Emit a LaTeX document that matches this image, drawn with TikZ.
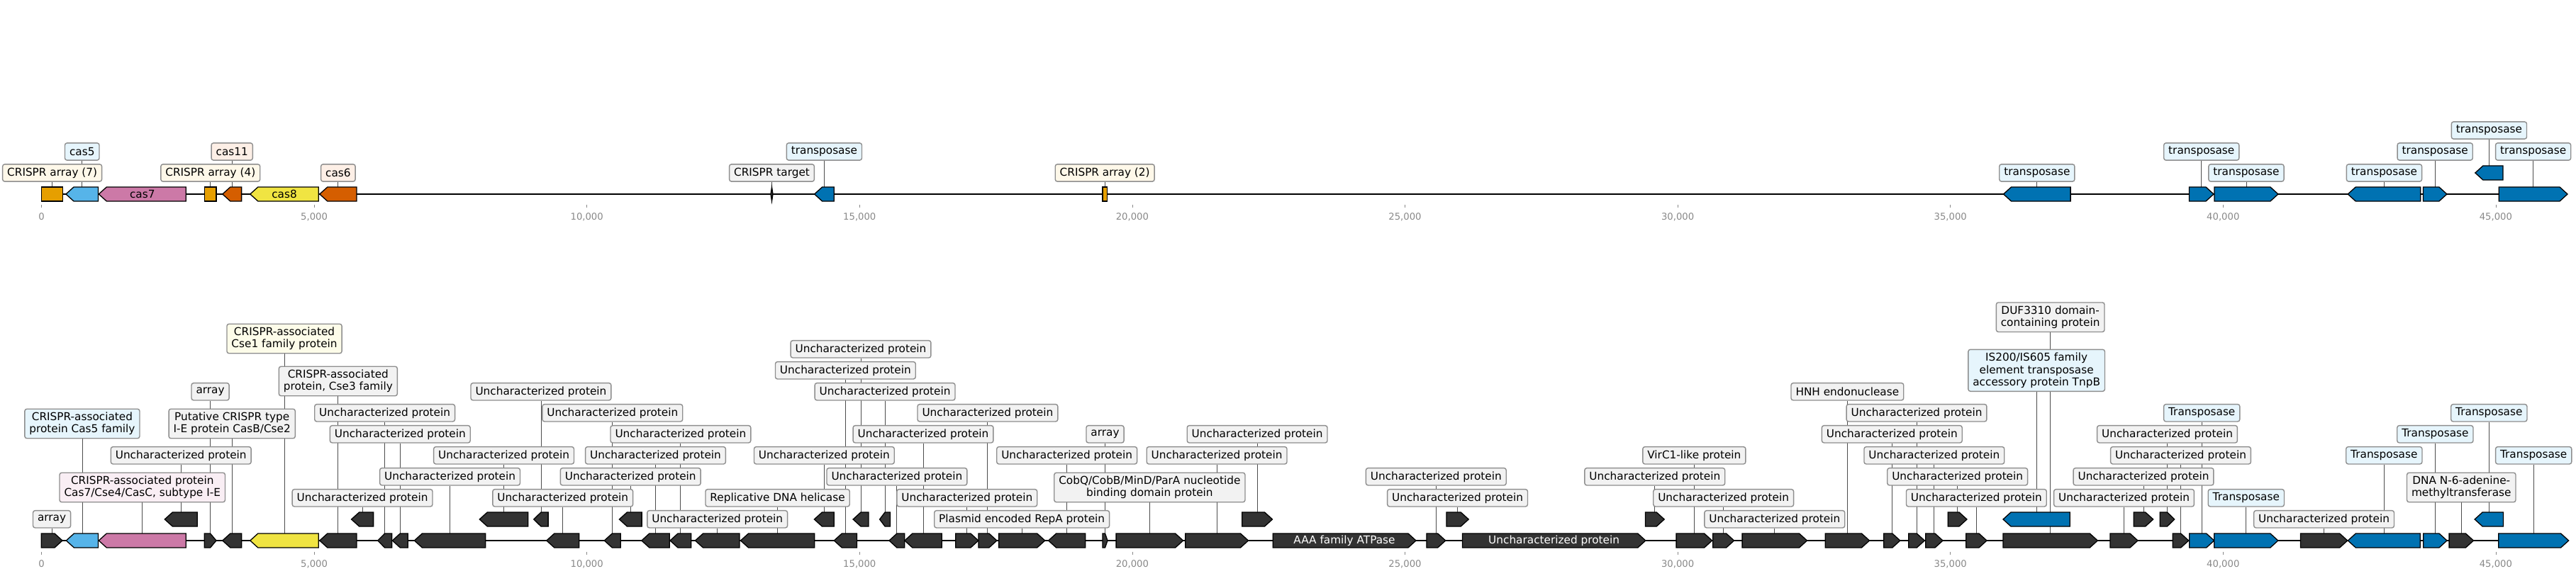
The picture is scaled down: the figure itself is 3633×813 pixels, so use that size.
\documentclass[tikz,border=0pt]{standalone}
\usepackage{fontspec}
\setmainfont{DejaVu Sans}

\definecolor{cdark}{HTML}{333333}
\definecolor{corange}{HTML}{E69F00}
\definecolor{cskyblue}{HTML}{56B4E9}
\definecolor{cpink}{HTML}{CC79A7}
\definecolor{cvermil}{HTML}{D55E00}
\definecolor{cyellow}{HTML}{F0E442}
\definecolor{cblue}{HTML}{0072B2}
\definecolor{lgrey}{HTML}{F2F2F2}
\definecolor{lblue}{HTML}{E6F5FC}
\definecolor{lcream}{HTML}{FEF8E9}
\definecolor{lpeach}{HTML}{FDEFE6}
\definecolor{lpink}{HTML}{F9EEF4}
\definecolor{lyellow}{HTML}{FDFCE9}
\definecolor{lborder}{HTML}{8E8E8E}
\definecolor{tickgrey}{HTML}{888888}
\definecolor{connline}{HTML}{4D4D4D}

\pgfdeclarelayer{bg}
\pgfsetlayers{bg,main}

\newcommand{\lblfont}{\fontsize{15.3}{17.3}\selectfont}
\newcommand{\tickfont}{\fontsize{13.2}{15}\selectfont}

\tikzset{
  gene/.style={draw=black, line width=1.3pt, line join=miter},
  lbl/.style={draw=lborder, fill=lgrey, line width=1.4pt, rounded corners=3pt,
    inner xsep=6.5pt, inner ysep=0pt, minimum height=24.3pt, align=center, font=\lblfont},
  lbltwo/.style={lbl, minimum height=41.5pt},
  lblthree/.style={lbl, minimum height=59pt},
  conn/.style={draw=connline, line width=0.9pt},
  trackline/.style={line width=2.2pt},
  rulertick/.style={draw=tickgrey, line width=0.8pt},
  ticklbl/.style={text=tickgrey, font=\tickfont, inner sep=0pt},
}

% genes: name, start, end, row centre, colour
\newcommand{\fwdgene}[5]{%
  \pgfmathsetmacro{\headlen}{min(11,(#3-#2)/2)}%
  \draw[gene, fill=#5] (#2,#4-10) -- (#3-\headlen,#4-10) -- (#3,#4) -- (#3-\headlen,#4+10) -- (#2,#4+10) -- cycle;
  \coordinate (#1) at ({(#2+#3)/2},#4-10);}
\newcommand{\revgene}[5]{%
  \pgfmathsetmacro{\headlen}{min(11,(#3-#2)/2)}%
  \draw[gene, fill=#5] (#2,#4) -- (#2+\headlen,#4-10) -- (#3,#4-10) -- (#3,#4+10) -- (#2+\headlen,#4+10) -- cycle;
  \coordinate (#1) at ({(#2+#3)/2},#4-10);}
\newcommand{\boxgene}[5]{%
  \draw[gene, fill=#5] (#2,#4-10) rectangle (#3,#4+10);
  \coordinate (#1) at ({(#2+#3)/2},#4-10);}

\begin{document}
\begin{tikzpicture}[x=1pt,y=-1pt]
\useasboundingbox (0,0) rectangle (3633,813);

% top track
\draw[trackline] (58.5,274) -- (3621,274);
\boxgene{t1}{58.5}{88.8}{274}{corange}
\revgene{t2}{93}{138.5}{274}{cskyblue}
\revgene{t3}{139.3}{262.2}{274}{cpink}
\node[font=\lblfont] (c7) at (200.75,274) {cas7};
\boxgene{t4}{288.6}{305}{274}{corange}
\revgene{t5}{313.8}{340.6}{274}{cvermil}
\revgene{t6}{352.8}{449.3}{274}{cyellow}
\node[font=\lblfont] (c8) at (401,274) {cas8};
\revgene{t7}{450.8}{502.9}{274}{cvermil}
\draw[gene, fill=cdark] (1088.5,264) -- (1090,274) -- (1088.5,284) -- (1087,274) -- cycle;
\coordinate (t8) at (1088.5,264);
\revgene{t9}{1148.6}{1176.2}{274}{cblue}
\boxgene{t10}{1555}{1561.3}{274}{corange}
\revgene{t11}{2825.5}{2920.1}{274}{cblue}
\fwdgene{t12}{3087.5}{3122}{274}{cblue}
\fwdgene{t13}{3123}{3212.9}{274}{cblue}
\revgene{t14}{3311.2}{3413.7}{274}{cblue}
\fwdgene{t15}{3417.4}{3450.9}{274}{cblue}
\revgene{t16}{3490.8}{3530}{244}{cblue}
\fwdgene{t17}{3524.2}{3621}{274}{cblue}

\node[lbl, fill=lcream] (a7) at (t1 |- 0,244) {CRISPR array (7)};
\node[lbl, fill=lblue] (k5) at (t2 |- 0,214) {cas5};
\node[lbl, fill=lcream] (a4) at (t4 |- 0,244) {CRISPR array (4)};
\node[lbl, fill=lpeach] (k11) at (t5 |- 0,214) {cas11};
\node[lbl, fill=lpeach] (k6) at (t7 |- 0,244) {cas6};
\node[lbl] (ct) at (t8 |- 0,244) {CRISPR target};
\node[lbl, fill=lblue] (tr1) at (t9 |- 0,214) {transposase};
\node[lbl, fill=lcream] (a2) at (t10 |- 0,244) {CRISPR array (2)};
\node[lbl, fill=lblue] (tr2) at (t11 |- 0,244) {transposase};
\node[lbl, fill=lblue] (tr3) at (t12 |- 0,214) {transposase};
\node[lbl, fill=lblue] (tr4) at (t13 |- 0,244) {transposase};
\node[lbl, fill=lblue] (tr5) at (t14 |- 0,244) {transposase};
\node[lbl, fill=lblue] (tr6) at (t15 |- 0,214) {transposase};
\node[lbl, fill=lblue] (tr7) at (t16 |- 0,184) {transposase};
\node[lbl, fill=lblue] (tr8) at (t17 |- 0,214) {transposase};

% bottom track
\draw[trackline] (58.2,763) -- (3622.6,763);
\fwdgene{b1}{58.2}{88}{763}{cdark}
\revgene{b2}{93.4}{138.5}{763}{cskyblue}
\revgene{b3}{139.3}{262.2}{763}{cpink}
\revgene{b4}{232.3}{278.2}{733}{cdark}
\fwdgene{b5}{288.2}{305}{763}{cdark}
\revgene{b6}{313.8}{340.6}{763}{cdark}
\revgene{b7}{352.8}{449.3}{763}{cyellow}
\revgene{b8}{450.8}{502.9}{763}{cdark}
\revgene{b9}{495.6}{526.6}{733}{cdark}
\revgene{b10}{532.7}{552.6}{763}{cdark}
\revgene{b11}{553.4}{575.2}{763}{cdark}
\revgene{b12}{584.4}{684.7}{763}{cdark}
\revgene{b13}{676.3}{744.8}{733}{cdark}
\revgene{b14}{752.8}{773.1}{733}{cdark}
\revgene{b15}{770.8}{816.7}{763}{cdark}
\revgene{b16}{852.3}{875.3}{763}{cdark}
\revgene{b17}{873.4}{905.1}{733}{cdark}
\revgene{b18}{904.8}{944.2}{763}{cdark}
\revgene{b19}{945}{974.8}{763}{cdark}
\revgene{b20}{980.5}{1042.9}{763}{cdark}
\revgene{b21}{1044.5}{1148.7}{763}{cdark}
\revgene{b22}{1148.4}{1176.3}{733}{cdark}
\revgene{b23}{1176.3}{1208.4}{763}{cdark}
\revgene{b24}{1203.1}{1224.9}{733}{cdark}
\revgene{b25}{1240.6}{1255.5}{733}{cdark}
\revgene{b26}{1254}{1275.8}{763}{cdark}
\revgene{b27}{1275.8}{1328.2}{763}{cdark}
\fwdgene{b28}{1347.7}{1379.9}{763}{cdark}
\fwdgene{b29}{1379.9}{1405.9}{763}{cdark}
\fwdgene{b30}{1408.6}{1473.7}{763}{cdark}
\revgene{b31}{1478.6}{1530.7}{763}{cdark}
\fwdgene{b32}{1555}{1562}{763}{cdark}
\fwdgene{b33}{1574.1}{1668.6}{763}{cdark}
\fwdgene{b34}{1671.7}{1760.5}{763}{cdark}
\fwdgene{b35}{1751.7}{1794.5}{733}{cdark}
\fwdgene{b36}{1795.3}{1997}{763}{cdark}
\node[font=\lblfont, text=white] (atp) at (1896,763) {AAA family ATPase};
\fwdgene{b37}{2011.9}{2038.7}{763}{cdark}
\fwdgene{b38}{2039.9}{2071.2}{733}{cdark}
\fwdgene{b39}{2062.4}{2320.8}{763}{cdark}
\node[font=\lblfont, text=white] (unk) at (2191.6,763) {Uncharacterized protein};
\fwdgene{b40}{2320.4}{2347.2}{733}{cdark}
\fwdgene{b41}{2364.1}{2414.6}{763}{cdark}
\fwdgene{b42}{2415.7}{2445.6}{763}{cdark}
\fwdgene{b43}{2457.1}{2548.5}{763}{cdark}
\fwdgene{b44}{2574.2}{2636.5}{763}{cdark}
\fwdgene{b45}{2656.8}{2679.8}{763}{cdark}
\fwdgene{b46}{2691.7}{2714.3}{763}{cdark}
\fwdgene{b47}{2715.7}{2740}{763}{cdark}
\fwdgene{b48}{2747.3}{2774}{733}{cdark}
\fwdgene{b49}{2772.7}{2802}{763}{cdark}
\revgene{b50}{2825}{2919.3}{733}{cblue}
\fwdgene{b51}{2825}{2958.3}{763}{cdark}
\fwdgene{b52}{2976}{3015}{763}{cdark}
\fwdgene{b53}{3009.3}{3036.7}{733}{cdark}
\fwdgene{b54}{3046.3}{3066.7}{733}{cdark}
\fwdgene{b55}{3064.3}{3086.7}{763}{cdark}
\fwdgene{b56}{3087.7}{3122.7}{763}{cblue}
\fwdgene{b57}{3122.8}{3212.8}{763}{cblue}
\fwdgene{b58}{3244.4}{3310.7}{763}{cdark}
\revgene{b59}{3311.3}{3413.3}{763}{cblue}
\fwdgene{b60}{3417.7}{3451}{763}{cblue}
\fwdgene{b61}{3454.1}{3488.4}{763}{cdark}
\revgene{b62}{3490.1}{3530.5}{733}{cblue}
\fwdgene{b63}{3523.7}{3622.6}{763}{cblue}

\node[lbl] (l1) at (b1 |- 0,732.8) {array};
\node[lbltwo, fill=lblue] (l2) at (b2 |- 0,598) {CRISPR-associated\\protein Cas5 family};
\node[lbltwo, fill=lpink] (l3) at (b3 |- 0,688) {CRISPR-associated protein\\Cas7/Cse4/CasC, subtype I-E};
\node[lbl] (l4) at (b4 |- 0,642.8) {Uncharacterized protein};
\node[lbl] (l5) at (b5 |- 0,552.8) {array};
\node[lbltwo] (l6) at (b6 |- 0,598) {Putative CRISPR type\\I-E protein CasB/Cse2};
\node[lbltwo, fill=lyellow] (l7) at (b7 |- 0,478) {CRISPR-associated\\Cse1 family protein};
\node[lbltwo] (l8) at (b8 |- 0,538) {CRISPR-associated\\protein, Cse3 family};
\node[lbl] (l9) at (b9 |- 0,702.8) {Uncharacterized protein};
\node[lbl] (l10) at (b10 |- 0,582.8) {Uncharacterized protein};
\node[lbl] (l11) at (b11 |- 0,612.8) {Uncharacterized protein};
\node[lbl] (l12) at (b12 |- 0,672.8) {Uncharacterized protein};
\node[lbl] (l13) at (b13 |- 0,642.8) {Uncharacterized protein};
\node[lbl] (l14) at (b14 |- 0,552.8) {Uncharacterized protein};
\node[lbl] (l15) at (b15 |- 0,702.8) {Uncharacterized protein};
\node[lbl] (l16) at (b16 |- 0,582.8) {Uncharacterized protein};
\node[lbl] (l17) at (b17 |- 0,672.8) {Uncharacterized protein};
\node[lbl] (l18) at (b18 |- 0,642.8) {Uncharacterized protein};
\node[lbl] (l19) at (b19 |- 0,612.8) {Uncharacterized protein};
\node[lbl] (l20) at (b20 |- 0,732.8) {Uncharacterized protein};
\node[lbl] (l21) at (b21 |- 0,702.8) {Replicative DNA helicase};
\node[lbl] (l22) at (b22 |- 0,642.8) {Uncharacterized protein};
\node[lbl] (l23) at (b23 |- 0,522.8) {Uncharacterized protein};
\node[lbl] (l24) at (b24 |- 0,492.8) {Uncharacterized protein};
\node[lbl] (l25) at (b25 |- 0,552.8) {Uncharacterized protein};
\node[lbl] (l26) at (b26 |- 0,672.8) {Uncharacterized protein};
\node[lbl] (l27) at (b27 |- 0,612.8) {Uncharacterized protein};
\node[lbl] (l28) at (b28 |- 0,702.8) {Uncharacterized protein};
\node[lbl] (l29) at (b29 |- 0,582.8) {Uncharacterized protein};
\node[lbl] (l30) at (b30 |- 0,732.8) {Plasmid encoded RepA protein};
\node[lbl] (l31) at (b31 |- 0,642.8) {Uncharacterized protein};
\node[lbl] (l32) at (b32 |- 0,612.8) {array};
\node[lbltwo] (l33) at (b33 |- 0,688) {CobQ/CobB/MinD/ParA nucleotide\\binding domain protein};
\node[lbl] (l34) at (b34 |- 0,642.8) {Uncharacterized protein};
\node[lbl] (l35) at (b35 |- 0,612.8) {Uncharacterized protein};
\node[lbl] (l37) at (b37 |- 0,672.8) {Uncharacterized protein};
\node[lbl] (l38) at (b38 |- 0,702.8) {Uncharacterized protein};
\node[lbl] (l40) at (b40 |- 0,672.8) {Uncharacterized protein};
\node[lbl] (l41) at (b41 |- 0,642.8) {VirC1-like protein};
\node[lbl] (l42) at (b42 |- 0,702.8) {Uncharacterized protein};
\node[lbl] (l43) at (b43 |- 0,732.8) {Uncharacterized protein};
\node[lbl] (l44) at (b44 |- 0,552.8) {HNH endonuclease};
\node[lbl] (l45) at (b45 |- 0,612.8) {Uncharacterized protein};
\node[lbl] (l46) at (b46 |- 0,582.8) {Uncharacterized protein};
\node[lbl] (l47) at (b47 |- 0,642.8) {Uncharacterized protein};
\node[lbl] (l48) at (b48 |- 0,672.8) {Uncharacterized protein};
\node[lbl] (l49) at (b49 |- 0,702.8) {Uncharacterized protein};
\node[lblthree, fill=lblue] (l50) at (b50 |- 0,522.8) {IS200/IS605 family\\element transposase\\accessory protein TnpB};
\node[lbltwo] (l51) at (b51 |- 0,447.7) {DUF3310 domain-\\containing protein};
\node[lbl] (l52) at (b52 |- 0,702.8) {Uncharacterized protein};
\node[lbl] (l53) at (b53 |- 0,672.8) {Uncharacterized protein};
\node[lbl] (l54) at (b54 |- 0,612.8) {Uncharacterized protein};
\node[lbl] (l55) at (b55 |- 0,642.8) {Uncharacterized protein};
\node[lbl, fill=lblue] (l56) at (b56 |- 0,582.8) {Transposase};
\node[lbl, fill=lblue] (l57) at (b57 |- 0,702.8) {Transposase};
\node[lbl] (l58) at (b58 |- 0,732.8) {Uncharacterized protein};
\node[lbl, fill=lblue] (l59) at (b59 |- 0,642.8) {Transposase};
\node[lbl, fill=lblue] (l60) at (b60 |- 0,612.8) {Transposase};
\node[lbltwo] (l61) at (b61 |- 0,688) {DNA N-6-adenine-\\methyltransferase};
\node[lbl, fill=lblue] (l62) at (b62 |- 0,582.8) {Transposase};
\node[lbl, fill=lblue] (l63) at (b63 |- 0,642.8) {Transposase};

% rulers
\foreach \k/\t in {0/0,1/{5,000},2/{10,000},3/{15,000},4/{20,000},5/{25,000},6/{30,000},7/{35,000},8/{40,000},9/{45,000}}{
  \draw[rulertick] (58.5+384.6*\k,289) -- (58.5+384.6*\k,293);
  \node[ticklbl] (tt\k) at (58.5+384.6*\k,306) {\t};
  \draw[rulertick] (58.5+384.6*\k,779) -- (58.5+384.6*\k,783);
  \node[ticklbl] (bt\k) at (58.5+384.6*\k,796) {\t};
}

% label lines
\begin{pgfonlayer}{bg}
\draw[conn] (t1) -- (a7);
\draw[conn] (t2) -- (k5);
\draw[conn] (t4) -- (a4);
\draw[conn] (t5) -- (k11);
\draw[conn] (t7) -- (k6);
\draw[conn] (t8) -- (ct);
\draw[conn] (t9) -- (tr1);
\draw[conn] (t10) -- (a2);
\draw[conn] (t11) -- (tr2);
\draw[conn] (t12) -- (tr3);
\draw[conn] (t13) -- (tr4);
\draw[conn] (t14) -- (tr5);
\draw[conn] (t15) -- (tr6);
\draw[conn] (t16) -- (tr7);
\draw[conn] (t17) -- (tr8);
\foreach \i in {1,...,35,37,38,40,41,...,63}{
  \draw[conn] (b\i) -- (l\i);
}
\end{pgfonlayer}
\end{tikzpicture}
\end{document}
